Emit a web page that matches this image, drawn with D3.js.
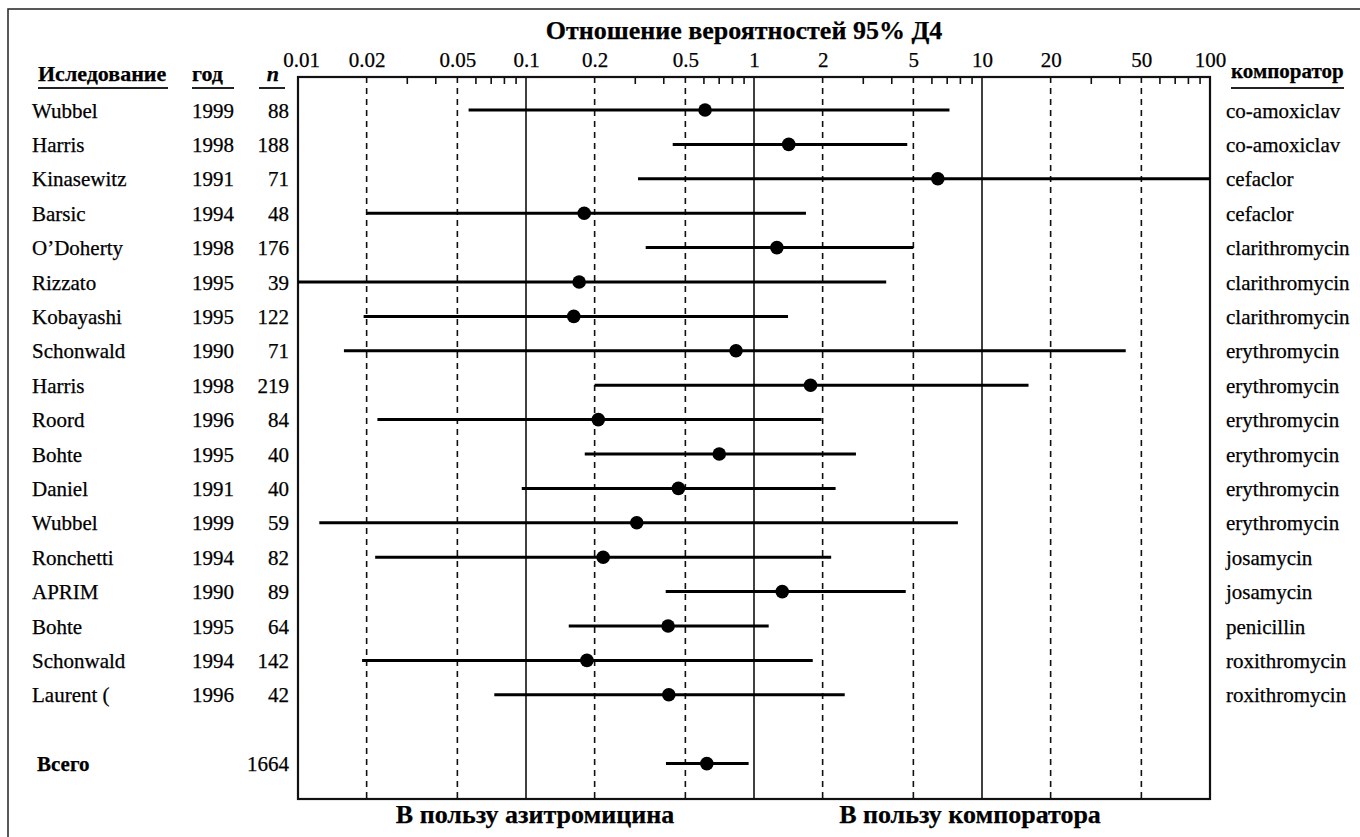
<!DOCTYPE html>
<html><head><meta charset="utf-8">
<script src="https://cdn.jsdelivr.net/npm/d3@7"></script>
<style>
body{margin:0;background:#fff;}
svg{display:block;}
text{font-family:"Liberation Serif","Times New Roman",serif;fill:#000;stroke:#000;stroke-width:0.25px;}
</style></head>
<body><svg id="c" width="1360" height="837"></svg>
<script>
const studies = ["Wubbel","Harris","Kinasewitz","Barsic","O\u2019Doherty","Rizzato","Kobayashi","Schonwald","Harris","Roord","Bohte","Daniel","Wubbel","Ronchetti","APRIM","Bohte","Schonwald","Laurent ("];
const years = ["1999","1998","1991","1994","1998","1995","1995","1990","1998","1996","1995","1991","1999","1994","1990","1995","1994","1996"];
const ns = ["88","188","71","48","176","39","122","71","219","84","40","40","59","82","89","64","142","42"];
const comparators = ["co-amoxiclav","co-amoxiclav","cefaclor","cefaclor","clarithromycin","clarithromycin","clarithromycin","erythromycin","erythromycin","erythromycin","erythromycin","erythromycin","erythromycin","josamycin","josamycin","penicillin","roxithromycin","roxithromycin"];
const oddsRatio = [0.61,1.42,6.4,0.18,1.26,0.171,0.162,0.834,1.77,0.2075,0.704,0.466,0.306,0.218,1.33,0.42,0.185,0.423];
const ciLow = [0.056,0.44,0.31,0.02,0.335,0.01,0.0194,0.0159,0.2,0.0223,0.181,0.0958,0.0124,0.0218,0.41,0.154,0.0191,0.0726];
const ciHigh = [7.2,4.7,100,1.69,5.0,3.8,1.41,42.7,16,1.98,2.8,2.28,7.84,2.18,4.63,1.16,1.81,2.5];
const totalLabel = "Всего", totalN = "1664";
const totalOR = 0.621, totalLow = 0.411, totalHigh = 0.947;
const totalIndex = 19;
const majorTicks = [0.01,0.02,0.05,0.1,0.2,0.5,1,2,5,10,20,50,100];
const tickLabels = ["0.01","0.02","0.05","0.1","0.2","0.5","1","2","5","10","20","50","100"];
const minorTicks = [0.03,0.04,0.06,0.07,0.08,0.09,0.3,0.4,0.6,0.7,0.8,0.9,3,4,6,7,8,9,30,40,60,70,80,90];
const solidLines = [0.1,1,10];
const dashedLines = [0.02,0.05,0.2,0.5,2,5,20,50];

const svg = d3.select("#c");
const plotTop = 77, plotBottom = 799;
const x = d3.scaleLog().domain([0.01,100]).range([298,1210]);
const y = d3.scaleLinear().domain([0,totalIndex]).range([110,763.6]);

// outer frame
svg.append("path").attr("d","M8,845 V9 H1370").attr("fill","none").attr("stroke","#222").attr("stroke-width",1.5);

// title
svg.append("text").attr("x",744).attr("y",39).attr("text-anchor","middle")
  .attr("font-size",26).attr("font-weight","bold").text("Отношение вероятностей 95% Д4");

// grid lines
svg.append("g").selectAll("line").data(dashedLines).join("line")
  .attr("x1",d=>x(d)).attr("x2",d=>x(d)).attr("y1",plotTop).attr("y2",plotBottom)
  .attr("stroke","#111").attr("stroke-width",1.6).attr("stroke-dasharray","6,5");
svg.append("g").selectAll("line").data(solidLines).join("line")
  .attr("x1",d=>x(d)).attr("x2",d=>x(d)).attr("y1",plotTop).attr("y2",plotBottom)
  .attr("stroke","#111").attr("stroke-width",1.6);

// top axis labels
const ax = svg.append("g").attr("transform",`translate(0,${plotTop})`)
  .call(d3.axisTop(x).tickValues(majorTicks).tickSize(0).tickPadding(10).tickFormat((d,i)=>tickLabels[i]));
ax.select(".domain").remove();
ax.selectAll("text").attr("font-size",21).attr("font-family","Liberation Serif").attr("fill","#000");
ax.selectAll(".tick").filter(d=>d===0.01).select("text").attr("dx",3);

// minor ticks
const mx = svg.append("g").attr("transform",`translate(0,${plotTop})`)
  .call(d3.axisBottom(x).tickValues(minorTicks).tickSize(7).tickFormat(""));
mx.select(".domain").remove();
mx.selectAll("line").attr("stroke","#111").attr("stroke-width",1.6);

// box
svg.append("rect").attr("x",x(0.01)).attr("y",plotTop).attr("width",x(100)-x(0.01)).attr("height",plotBottom-plotTop)
  .attr("fill","none").attr("stroke","#111").attr("stroke-width",2.2);

// CI lines and points
const idx = d3.range(studies.length);
svg.append("g").selectAll("line").data(idx).join("line")
  .attr("x1",i=>x(ciLow[i])).attr("x2",i=>x(ciHigh[i])).attr("y1",i=>y(i)).attr("y2",i=>y(i))
  .attr("stroke","#000").attr("stroke-width",3);
svg.append("g").selectAll("circle").data(idx).join("circle")
  .attr("cx",i=>x(oddsRatio[i])).attr("cy",i=>y(i)).attr("r",6.8).attr("fill","#000");
svg.append("line").attr("x1",x(totalLow)).attr("x2",x(totalHigh)).attr("y1",y(totalIndex)).attr("y2",y(totalIndex))
  .attr("stroke","#000").attr("stroke-width",3);
svg.append("circle").attr("cx",x(totalOR)).attr("cy",y(totalIndex)).attr("r",6.8).attr("fill","#000");

// headers
const hdr = [
  {t:"Иследование",x:38,anchor:"start",ux1:38,ux2:168,style:"normal",fs:22},
  {t:"год",x:192,anchor:"start",ux1:192,ux2:234,style:"normal",fs:22},
  {t:"n",x:279,anchor:"end",ux1:259,ux2:285,style:"italic",fs:22},
  {t:"компоратор",x:1231,anchor:"start",ux1:1231,ux2:1344,style:"normal",fs:21}
];
hdr.forEach(h=>{
  svg.append("text").attr("x",h.x).attr("y",h.t==="компоратор"?78:81).attr("text-anchor",h.anchor)
    .attr("font-size",h.fs).attr("font-weight","bold").attr("font-style",h.style).text(h.t);
  svg.append("line").attr("x1",h.ux1).attr("x2",h.ux2).attr("y1",88).attr("y2",88)
    .attr("stroke","#222").attr("stroke-width",2);
});

// row labels
const rows = svg.append("g").attr("font-size",21);
rows.selectAll("text.s").data(idx).join("text").attr("class","s")
  .attr("x",32).attr("y",i=>y(i)+7.5).text(i=>studies[i]);
rows.selectAll("text.yr").data(idx).join("text").attr("class","yr")
  .attr("x",192).attr("y",i=>y(i)+7.5).text(i=>years[i]);
rows.selectAll("text.n").data(idx).join("text").attr("class","n")
  .attr("x",289).attr("text-anchor","end").attr("y",i=>y(i)+7.5).text(i=>ns[i]);
rows.selectAll("text.cmp").data(idx).join("text").attr("class","cmp")
  .attr("x",1226).attr("y",i=>y(i)+7.5).text(i=>comparators[i]);

// total
svg.append("text").attr("x",37).attr("y",y(totalIndex)+7.5).attr("font-size",21).attr("font-weight","bold").text(totalLabel);
svg.append("text").attr("x",289).attr("y",y(totalIndex)+7.5).attr("text-anchor","end").attr("font-size",21).text(totalN);

// bottom labels
svg.append("text").attr("x",535).attr("y",823).attr("text-anchor","middle").attr("font-size",26).attr("font-weight","bold").text("В пользу азитромицина");
svg.append("text").attr("x",970).attr("y",823).attr("text-anchor","middle").attr("font-size",26).attr("font-weight","bold").text("В пользу компоратора");
</script></body></html>
